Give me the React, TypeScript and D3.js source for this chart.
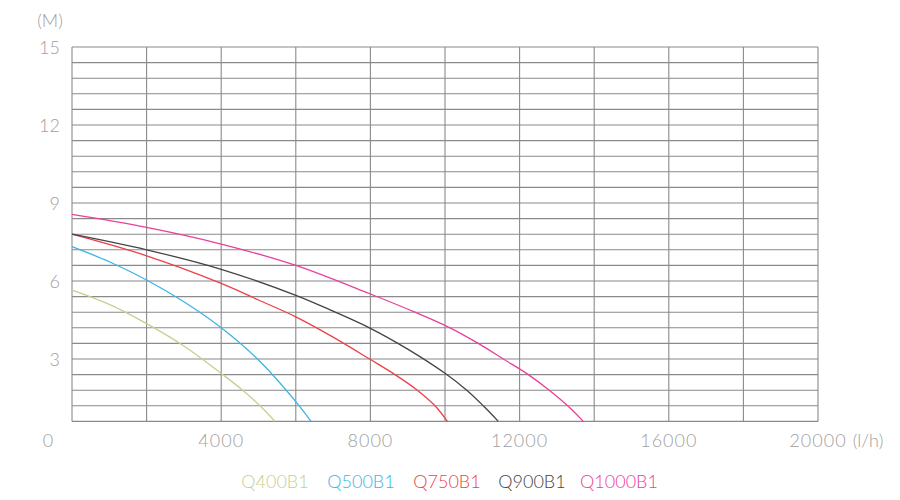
import React from "react";
import * as d3 from "d3";

const series = ["Q400B1", "Q500B1", "Q750B1", "Q900B1", "Q1000B1"];
const colors = ["#c6cf92", "#3bb4e5", "#ee3f47", "#444444", "#ea3f9b"];

const q400Flow = [0, 1000, 2000, 3000, 4040, 4576, 5040, 5442];
const q400Head = [5.65, 5.1, 4.36, 3.5, 2.4, 1.8, 1.2, 0.6];
const q500Flow = [0, 1000, 2000, 3000, 4000, 5000, 6000, 6408];
const q500Head = [7.32, 6.74, 6.04, 5.2, 4.2, 2.96, 1.36, 0.6];
const q750Flow = [0, 2000, 4000, 5000, 6000, 7000, 8000, 8660, 9258, 9732, 10063];
const q750Head = [7.8, 6.97, 5.91, 5.27, 4.62, 3.84, 2.98, 2.4, 1.8, 1.2, 0.6];
const q900Flow = [0, 2000, 4000, 6000, 7000, 8000, 9000, 10000, 10583, 11027, 11429];
const q900Head = [7.8, 7.2, 6.45, 5.45, 4.84, 4.18, 3.38, 2.45, 1.8, 1.2, 0.6];
const q1000Flow = [0, 2000, 4000, 6000, 8000, 9196, 10134, 10893, 11563, 12233, 12796, 13289, 13708];
const q1000Head = [8.56, 8.06, 7.42, 6.6, 5.5, 4.8, 4.2, 3.6, 3.0, 2.4, 1.8, 1.2, 0.6];

const flows = [q400Flow, q500Flow, q750Flow, q900Flow, q1000Flow];
const heads = [q400Head, q500Head, q750Head, q900Head, q1000Head];

const yTickLabels = [3, 6, 9, 12, 15];
const xTickLabels = [4000, 8000, 12000, 16000, 20000];

export default function App() {
  const W = 900, H = 500;
  const x = d3.scaleLinear().domain([0, 20000]).range([72, 818]);
  const y = d3.scaleLinear().domain([0, 15]).range([437, 47]);
  const hLines = d3.range(1, 26).map((i) => +(i * 0.6).toFixed(1));
  const vLines = d3.range(0, 20001, 2000);
  const line = d3
    .line<[number, number]>()
    .x((d) => x(d[0]))
    .y((d) => y(d[1]))
    .curve(d3.curveCatmullRom.alpha(0.5));
  const font = "Lato, 'DejaVu Sans', sans-serif";
  const legendX = [275, 361, 447, 532, 619];
  return (
    <svg width={W} height={H} style={{ position: "absolute", left: 0, top: 0 }}>
      <rect width={W} height={H} fill="#fff" />
      {hLines.map((v, i) => (
        <line
          key={"h" + i}
          x1={x(0)}
          x2={x(20000)}
          y1={y(v)}
          y2={y(v)}
          stroke="#8a8a8a"
          strokeWidth={1.1}
        />
      ))}
      {vLines.map((v) => (
        <line key={"v" + v} x1={x(v)} x2={x(v)} y1={y(0.6)} y2={y(15)} stroke="#8a8a8a" strokeWidth={1.1} />
      ))}
      {flows.map((f, si) => (
        <path
          key={series[si]}
          d={line(f.map((q, i) => [q, heads[si][i]] as [number, number])) || ""}
          fill="none"
          stroke={colors[si]}
          strokeWidth={1.3}
        />
      ))}
      <g fontFamily={font} fontWeight={300} fontSize={18} fill="#a0a0a0">
        {yTickLabels.map((v) => (
          <text key={"yt" + v} x={60} y={y(v)} textAnchor="end" dominantBaseline="central">
            {v}
          </text>
        ))}
        <text x={50} y={20} textAnchor="middle" dominantBaseline="central">(M)</text>
        <text x={48} y={440} textAnchor="middle" dominantBaseline="central">0</text>
        {xTickLabels.map((v) => (
          <text key={"xt" + v} x={x(v)} y={440} textAnchor="middle" dominantBaseline="central" letterSpacing={1}>
            {v}
          </text>
        ))}
        <text x={868} y={440} textAnchor="middle" dominantBaseline="central">(l/h)</text>
      </g>
      <g fontFamily={font} fontWeight={300} fontSize={18}>
        {series.map((s, i) => (
          <text key={s} x={legendX[i]} y={481} textAnchor="middle" dominantBaseline="central" fill={colors[i]}>
            {s}
          </text>
        ))}
      </g>
    </svg>
  );
}
